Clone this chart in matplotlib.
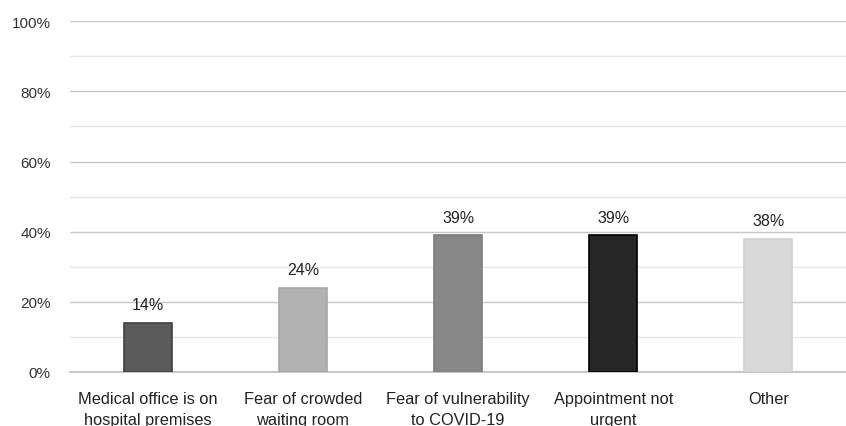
import matplotlib.pyplot as plt
import numpy as np

plt.rcParams['font.family'] = ['Liberation Sans', 'DejaVu Sans']

categories = ["Medical office is on\nhospital premises", "Fear of crowded\nwaiting room",
              "Fear of vulnerability\nto COVID-19", "Appointment not\nurgent", "Other"]
values = [14, 24, 39, 39, 38]
colors = ["#5b5b5b", "#b2b2b2", "#888888", "#272727", "#d9d9d9"]
edges = ["#404040", "#a8a8a8", "#7c7c7c", "#000000", "#d0d0d0"]

fig = plt.figure(figsize=(8.46, 4.27), dpi=100)
ax = fig.add_axes([0.083, 0.1265, 0.917, 0.8215])

x = np.arange(len(categories))
ax.bar(x, values, width=0.31, color=colors, edgecolor=edges, linewidth=1.2, zorder=3)

for xi, v in zip(x, values):
    ax.text(xi, v + 3, f"{v}%", ha="center", va="bottom", fontsize=11.5, color="#222222")

ax.set_xlim(-0.5, len(categories) - 0.5)
ax.set_ylim(0, 100)
ax.set_yticks(np.arange(0, 101, 20))
ax.set_yticklabels([f"{t}%" for t in range(0, 101, 20)], fontsize=11, color="#333333")
ax.set_yticks(np.arange(10, 100, 20), minor=True)
ax.grid(axis="y", which="major", color="#c8c8c8", linewidth=1.0, zorder=0)
ax.grid(axis="y", which="minor", color="#e6e6e6", linewidth=1.0, zorder=0)
ax.axhline(0, color="#bdbdbd", linewidth=1.2, zorder=2, clip_on=False)
ax.tick_params(axis="y", which="both", length=0, pad=14)
ax.tick_params(axis="x", length=0, pad=14)
ax.set_xticks(x)
ax.set_xticklabels(categories, fontsize=11.8, color="#222222", linespacing=1.45)
for s in ax.spines.values():
    s.set_visible(False)

fig.savefig("out.png", dpi=100)
